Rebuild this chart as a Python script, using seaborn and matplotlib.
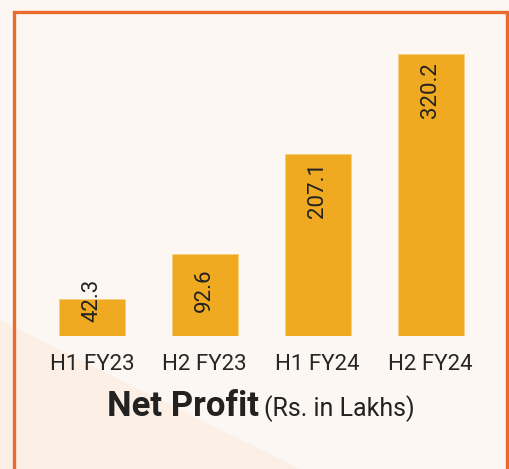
import matplotlib
matplotlib.use("Agg")
import matplotlib.pyplot as plt
import seaborn as sns
import pandas as pd
from matplotlib.patches import Rectangle, Polygon

# data
periods = ["H1 FY23", "H2 FY23", "H1 FY24", "H2 FY24"]
net_profit = [42.3, 92.6, 207.1, 320.2]

df = pd.DataFrame({"period": periods, "profit": net_profit})

sns.set_theme(style="white")
plt.rcParams["font.family"] = ["Roboto", "DejaVu Sans"]

W, H = 509, 469
fig = plt.figure(figsize=(W / 100, H / 100), dpi=100)
bg = "#FCF7F2"
fig.patch.set_facecolor(bg)

# soft peach shading bottom-left
fig.patches.append(Polygon([(0, (H - 320) / H), (300 / W, 0), (0, 0)],
                           closed=True, transform=fig.transFigure,
                           facecolor="#FBEFE6", edgecolor="none", zorder=-2))

# orange frame (open at bottom)
fig.patches.append(Rectangle((14 / W, -0.05), (507 - 14) / W, 1.05 - 12 / H,
                             transform=fig.transFigure, fill=False,
                             edgecolor="#EB6A2E", linewidth=2.4, zorder=-1))

ax = fig.add_axes([35.5 / W, 133 / H, 451.5 / W, 308.35 / H])
ax.set_zorder(3)
ax.set_facecolor("none")
sns.barplot(data=df, x="period", y="profit", color="#F0AA21", width=0.585,
            saturation=1, edgecolor="#F6CF80", linewidth=0.6, ax=ax)
ax.set_ylim(0, 350)
ax.set_xlim(-0.5, 3.5)
ax.set_yticks([])
ax.set_xlabel("")
ax.set_ylabel("")
for s in ax.spines.values():
    s.set_visible(False)
ax.tick_params(axis="x", length=0, pad=13, labelsize=16, labelcolor="#262626")

# value labels inside bars, rotated
px = 0.881  # pixels per unit
off = 36 / px
for i, v in enumerate(net_profit):
    yc = max(v - off, off)
    ax.text(i, yc, f"{v:.1f}", rotation=90, ha="center", va="center",
            fontsize=16, color="#222222")

yb = (H - 416) / H
fig.text(259 / W, yb, "Net Profit", ha="right", va="baseline",
         fontsize=25, fontweight="bold", color="#222222", zorder=4)
fig.text(264 / W, yb, "(Rs. in Lakhs)", ha="left", va="baseline",
         fontsize=18, color="#222222", zorder=4)

fig.savefig("out.png", dpi=100, facecolor=bg)
